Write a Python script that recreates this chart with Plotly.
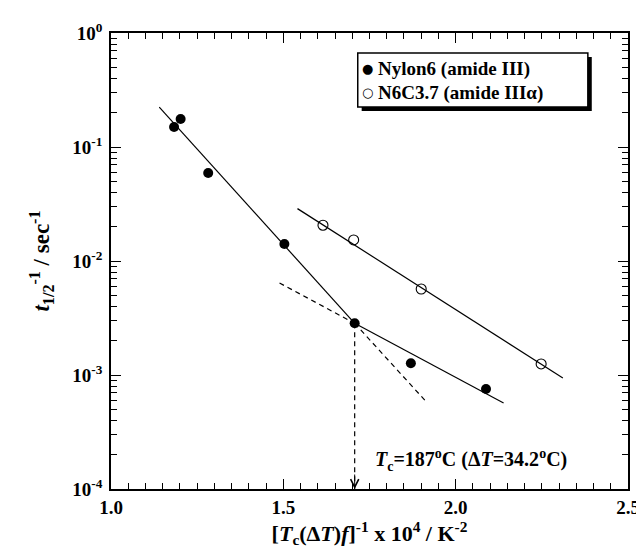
import plotly.graph_objects as go

# ---- data ----
nylon_x = [1.183, 1.202, 1.282, 1.503, 1.707, 1.870, 2.088]
nylon_y = [0.150, 0.176, 0.0591, 0.0141, 0.00284, 0.00127, 0.000753]
n6c_x = [1.615, 1.704, 1.900, 2.248]
n6c_y = [0.0206, 0.0153, 0.00568, 0.00125]

# fitted lines (end points)
fit_steep_x = [1.140, 1.707]
fit_steep_y = [0.224, 0.00284]
fit_shallow_x = [1.707, 2.139]
fit_shallow_y = [0.00284, 0.000568]
ext_shallow_x = [1.489, 1.707]
ext_shallow_y = [0.00641, 0.00284]
ext_steep_x = [1.707, 1.918]
ext_steep_y = [0.00284, 0.000568]
fit_n6c_x = [1.541, 2.311]
fit_n6c_y = [0.0288, 0.000942]

tc_x = 1.707
tc_drop_y = [0.00284, 0.0001]

series_names = ["Nylon6 (amide III)", "N6C3.7 (amide III\u03b1)"]
series_glyphs = ["\u25cf", "\u25cb"]

x_ticks = [1.0, 1.5, 2.0, 2.5]
x_ticktext = ["1.0", "1.5", "2.0", "2.5"]
y_ticks = [1e-4, 1e-3, 1e-2, 1e-1, 1e0]
y_ticktext = ["10<sup>-4</sup>", "10<sup>-3</sup>", "10<sup>-2</sup>", "10<sup>-1</sup>", "10<sup>0</sup>"]
y_minor = [k * 10.0 ** e for e in range(-4, 0) for k in range(2, 10)]

FONT = "Liberation Serif"
W, H = 644, 549
ML, MR, MT, MB = 103, 13, 25, 68
PW, PH = W - ML - MR, H - MT - MB


def px(x):
    return (x - ML) / PW


def py(y):
    return (H - MB - y) / PH


fig = go.Figure()

line_style = dict(color="black", width=1.2)
dash_style = dict(color="black", width=1.2, dash="5px,4px")

for xs, ys, st in [
    (fit_steep_x, fit_steep_y, line_style),
    (fit_shallow_x, fit_shallow_y, line_style),
    (ext_shallow_x, ext_shallow_y, dash_style),
    (ext_steep_x, ext_steep_y, dash_style),
    (fit_n6c_x, fit_n6c_y, line_style),
    ([tc_x, tc_x], tc_drop_y, dash_style),
]:
    fig.add_trace(go.Scatter(x=xs, y=ys, mode="lines", line=st,
                             showlegend=False, hoverinfo="skip"))

fig.add_trace(go.Scatter(
    x=nylon_x, y=nylon_y, mode="markers", name=series_names[0], showlegend=False,
    marker=dict(symbol="circle", size=10, color="black",
                line=dict(color="black", width=0))))
fig.add_trace(go.Scatter(
    x=n6c_x, y=n6c_y, mode="markers", name=series_names[1], showlegend=False,
    marker=dict(symbol="circle-open", size=10, color="black",
                line=dict(color="black", width=1.1))))

# arrow head at the end of the vertical dashed drop line
fig.add_annotation(x=tc_x, y=-4, xref="x", yref="y", ax=0, ay=-16,
                   axref="pixel", ayref="pixel", showarrow=True, text="",
                   arrowhead=5, arrowsize=1.6, arrowwidth=1, arrowcolor="black",
                   standoff=0)

fig.add_annotation(
    x=px(371), y=py(452), xref="paper", yref="paper", xanchor="left", yanchor="middle",
    showarrow=False,
    text="<i>T</i><sub>c</sub>=187<sup>o</sup>C (\u0394<i>T</i>=34.2<sup>o</sup>C)",
    font=dict(family=FONT, size=20, color="black", weight="bold"))

# ---- legend box (drawn as shapes + text) ----
lx0, ly0, lx1, ly1 = 355, 45, 590, 99
sh = 4
fig.add_shape(type="rect", xref="paper", yref="paper",
              x0=px(lx0 + sh), x1=px(lx1 + sh), y0=py(ly1 + sh), y1=py(ly0 + sh),
              fillcolor="black", line=dict(width=0), layer="above")
fig.add_shape(type="rect", xref="paper", yref="paper",
              x0=px(lx0), x1=px(lx1), y0=py(ly1), y1=py(ly0),
              fillcolor="white", line=dict(color="black", width=1.5), layer="above")
row_y = [60.5, 84.5]
for name, glyph, ry in zip(series_names, series_glyphs, row_y):
    fig.add_annotation(x=px(365), y=py(ry), xref="paper", yref="paper",
                       xanchor="center", yanchor="middle", showarrow=False, borderpad=0,
                       text=glyph, font=dict(family="DejaVu Sans", size=13, color="black"))
    fig.add_annotation(x=px(375), y=py(ry), xref="paper", yref="paper",
                       xanchor="left", yanchor="middle", showarrow=False, borderpad=0,
                       text=name, font=dict(family=FONT, size=19, color="black", weight="bold"))

axis_common = dict(
    showline=True, linecolor="black", linewidth=1.6, mirror="ticks",
    ticks="inside", ticklen=10, tickwidth=1.2, tickcolor="black",
    showgrid=False, zeroline=False,
    tickfont=dict(family=FONT, size=19, color="black", weight="bold"),
)

fig.update_layout(
    width=W, height=H,
    margin=dict(l=ML, r=MR, t=MT, b=MB),
    paper_bgcolor="white", plot_bgcolor="white",
    showlegend=False,
    xaxis=dict(
        range=[1.0, 2.5], tickmode="array", tickvals=x_ticks, ticktext=x_ticktext,
        minor=dict(dtick=0.05, ticks="inside", ticklen=6, tickwidth=1, tickcolor="black"),
        title=dict(text="[<i>T</i><sub>c</sub>(\u0394<i>T</i>)<i>f</i>]<sup>-1</sup> x 10<sup>4</sup> / K<sup>-2</sup>",
                   font=dict(family=FONT, size=22, color="black", weight="bold"), standoff=3),
        **axis_common,
    ),
    yaxis=dict(
        type="log", range=[-4, 0], tickmode="array", tickvals=y_ticks, ticktext=y_ticktext,
        minor=dict(tickmode="array", tickvals=y_minor, ticks="inside", ticklen=6,
                   tickwidth=1, tickcolor="black"),
        ticklabelstandoff=3,
        title=dict(text="<i>t</i><sub>1/2</sub><sup>-1</sup> / sec<sup>-1</sup>",
                   font=dict(family=FONT, size=23, color="black", weight="bold"), standoff=16),
        **axis_common,
    ),
)

fig.write_html("out.html")
